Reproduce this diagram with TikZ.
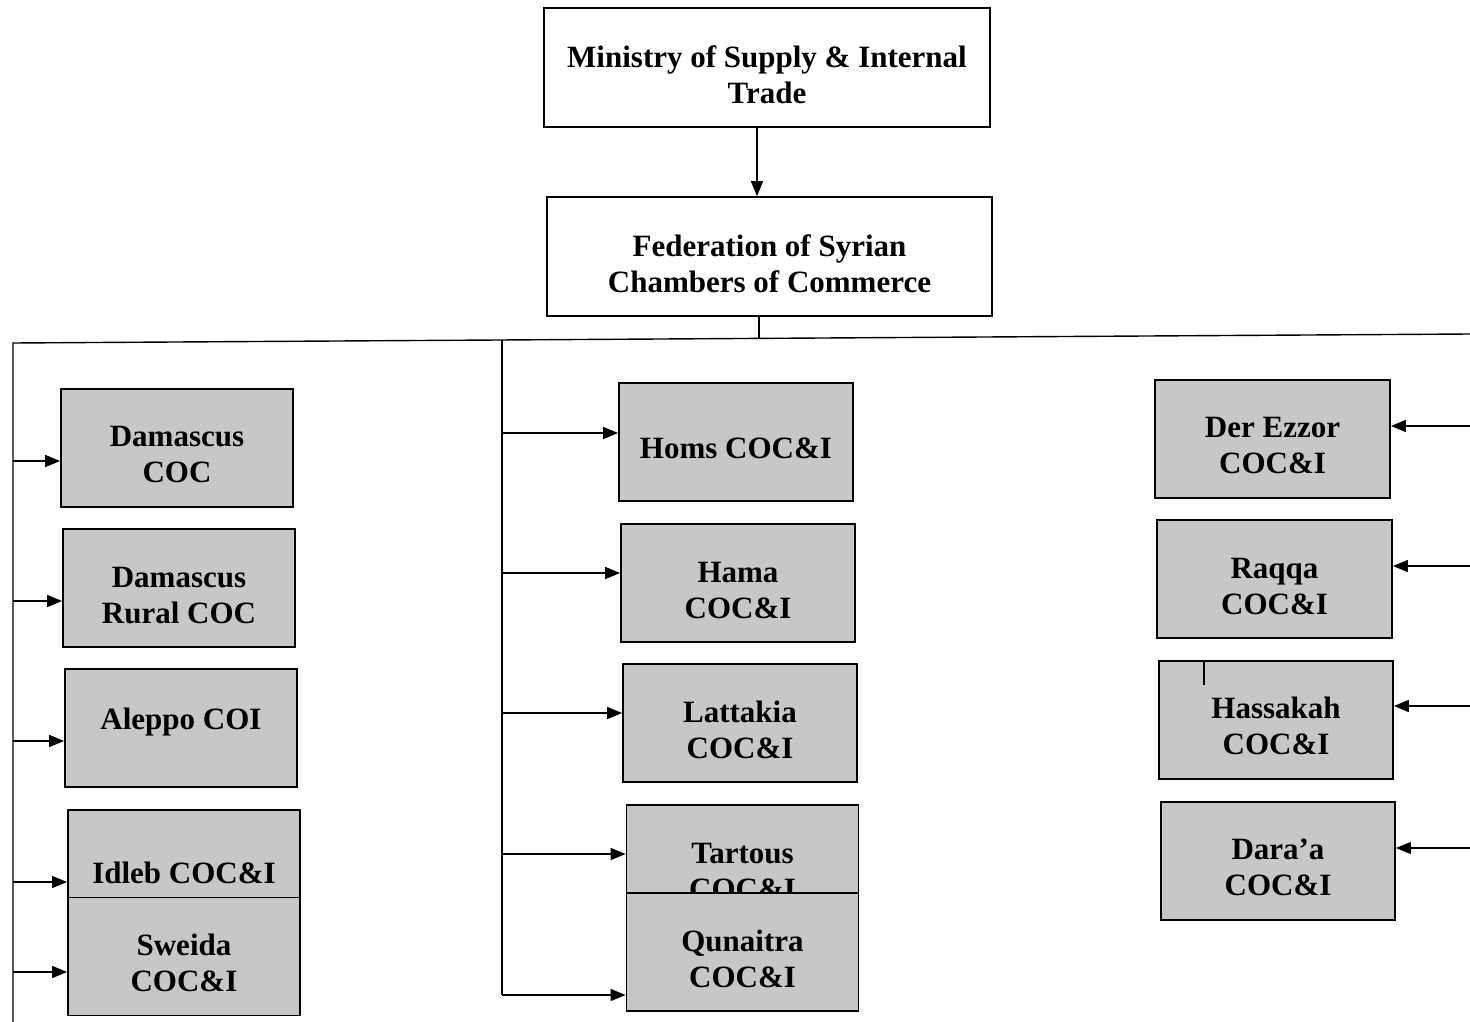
\documentclass[tikz,border=0pt]{standalone}
\usepackage{fontspec}
\setmainfont{Liberation Serif}
\usetikzlibrary{arrows.meta}
\newcommand\boxtext[2][-16.5pt]{\raisebox{#1}[0pt][0pt]{\begin{tabular}{@{}c@{}}#2\end{tabular}}}
\begin{document}
\begin{tikzpicture}[x=1pt,y=-1pt,
  topbox/.style={draw,line width=1.6pt,fill=white,font=\fontsize{31}{36}\selectfont\bfseries,inner sep=0pt},
  coc/.style={draw,line width=1.8pt,fill=black!22,font=\fontsize{31}{36}\selectfont\bfseries,inner sep=0pt,minimum width=232pt,minimum height=118pt},
  link/.style={line width=1.4pt},
  arr/.style={line width=1.4pt,-{Triangle[length=15pt,width=12pt]}}]
\useasboundingbox (0,0) rectangle (1470,1022);
% top
\node[topbox,minimum width=446pt,minimum height=119pt] (min) at (767,67.5) {\boxtext[-17.5pt]{Ministry of Supply \& Internal\\Trade}};
\node[topbox,minimum width=445pt,minimum height=119pt] (fed) at (769.5,256.5) {\boxtext[-17pt]{Federation of Syrian\\Chambers of Commerce}};
\draw[arr] (min.south -| 757,0) -- (fed.north -| 757,0);
% bus
\coordinate (BL) at (13,343);
\coordinate (BR) at (1470,334);
\coordinate (BF) at (759,338.4);
\coordinate (BM) at (502,340);
\coordinate (LB) at (13,1022);
\coordinate (MB) at (502,995);
\draw[link] (fed.south -| BF) -- (BF);
\draw[link] (LB) -- (BL) -- (BR);
\draw[link] (BM) -- (MB);
% left column
\node[coc] (dam) at (177,448) {\boxtext[-16pt]{Damascus\\COC}};
\node[coc] (damr) at (179,588) {\boxtext{Damascus\\Rural COC}};
\node[coc] (ale) at (181,728) {\boxtext[-0.5pt]{Aleppo COI}};
\node[coc] (idl) at (184,869) {\boxtext[-13.5pt]{Idleb COC\&I}};
\node[coc] (swe) at (184,956.5) {\boxtext{Sweida\\COC\&I}};
% middle column
\node[coc,minimum width=234pt] (hom) at (736,442) {\boxtext[-15.5pt]{Homs COC\&I}};
\node[coc,minimum width=234pt] (ham) at (738,583) {\boxtext[-17pt]{Hama\\COC\&I}};
\node[coc,minimum width=234pt] (lat) at (740,723) {\boxtext{Lattakia\\COC\&I}};
\node[coc] (tar) at (742.5,864) {\boxtext[-17pt]{Tartous\\COC\&I}};
\node[coc] (qun) at (742.5,952) {\boxtext{Qunaitra\\COC\&I}};
% right column
\node[coc,minimum width=235pt] (der) at (1272.5,439) {\boxtext[-16pt]{Der Ezzor\\COC\&I}};
\node[coc,minimum width=235pt] (raq) at (1274.5,579) {\boxtext{Raqqa\\COC\&I}};
\node[coc,minimum width=234pt] (has) at (1276,720) {\boxtext[-16pt]{Hassakah\\COC\&I}};
\node[coc,minimum width=234pt] (dar) at (1278,861) {\boxtext[-16pt]{Dara’a\\COC\&I}};
\draw[line width=1.2pt] (1204,662) -- (1204,685);
% left arrows
\foreach \n/\y in {dam/461,damr/601,ale/741,idl/882,swe/972}{
  \coordinate (L\n) at (13,\y);
  \draw[arr] (L\n) -- (\n.west |- L\n);
}
% middle arrows
\foreach \n/\y in {hom/433,ham/573,lat/713,tar/854,qun/995}{
  \coordinate (M\n) at (502,\y);
  \draw[arr] (M\n) -- (\n.west |- M\n);
}
% right arrows
\foreach \n/\y in {der/426,raq/566,has/706,dar/848}{
  \coordinate (R\n) at (1470,\y);
  \draw[arr] (R\n) -- (\n.east |- R\n);
}
\end{tikzpicture}
\end{document}
